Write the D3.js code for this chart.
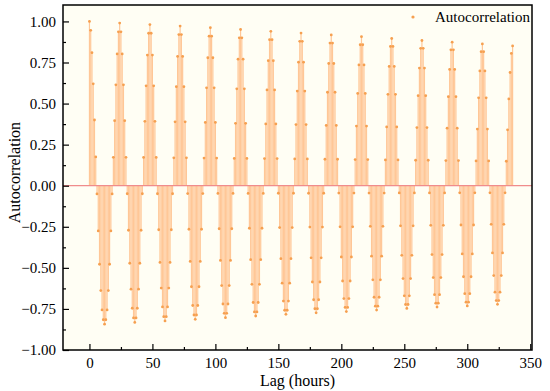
<!DOCTYPE html>
<html>
<head>
<meta charset="utf-8">
<style>
  body { margin: 0; background: #fff; }
  svg text { font-family: 'Liberation Serif', 'Times New Roman', serif; fill: #000; }
</style>
</head>
<body>
<div id="chart"></div>
<script src="https://cdn.jsdelivr.net/npm/d3@7"></script>
<script>
// autocorrelation by lag (hours), one row per 24 h cycle
const acf = [
  1.000, 0.946, 0.810, 0.620, 0.400, 0.175, -0.050, -0.275, -0.478, -0.638, -0.756, -0.816,
  -0.843, -0.816, -0.756, -0.638, -0.478, -0.275, -0.050, 0.173, 0.396, 0.614, 0.802, 0.937,
  0.990, 0.937, 0.802, 0.614, 0.396, 0.173, -0.049, -0.271, -0.472, -0.630, -0.746, -0.805,
  -0.832, -0.805, -0.746, -0.630, -0.472, -0.271, -0.049, 0.172, 0.392, 0.608, 0.795, 0.928,
  0.981, 0.928, 0.795, 0.608, 0.392, 0.172, -0.049, -0.268, -0.467, -0.623, -0.738, -0.797,
  -0.823, -0.797, -0.738, -0.623, -0.467, -0.268, -0.049, 0.170, 0.389, 0.603, 0.787, 0.920,
  0.972, 0.920, 0.787, 0.603, 0.389, 0.170, -0.048, -0.265, -0.461, -0.615, -0.729, -0.787,
  -0.813, -0.787, -0.729, -0.615, -0.461, -0.265, -0.048, 0.168, 0.385, 0.596, 0.779, 0.910,
  0.962, 0.910, 0.779, 0.596, 0.385, 0.168, -0.047, -0.262, -0.455, -0.608, -0.720, -0.777,
  -0.803, -0.777, -0.720, -0.608, -0.455, -0.262, -0.047, 0.166, 0.380, 0.590, 0.770, 0.900,
  0.951, 0.900, 0.770, 0.590, 0.380, 0.166, -0.047, -0.259, -0.450, -0.600, -0.711, -0.768,
  -0.793, -0.768, -0.711, -0.600, -0.450, -0.259, -0.047, 0.165, 0.376, 0.583, 0.761, 0.889,
  0.940, 0.889, 0.761, 0.583, 0.376, 0.165, -0.046, -0.255, -0.444, -0.593, -0.702, -0.758,
  -0.783, -0.758, -0.702, -0.593, -0.444, -0.255, -0.046, 0.163, 0.372, 0.576, 0.752, 0.879,
  0.929, 0.879, 0.752, 0.576, 0.372, 0.163, -0.046, -0.252, -0.439, -0.586, -0.694, -0.749,
  -0.774, -0.749, -0.694, -0.586, -0.439, -0.252, -0.046, 0.161, 0.367, 0.569, 0.744, 0.868,
  0.918, 0.868, 0.744, 0.569, 0.367, 0.161, -0.045, -0.250, -0.434, -0.580, -0.687, -0.741,
  -0.766, -0.741, -0.687, -0.580, -0.434, -0.250, -0.045, 0.159, 0.363, 0.562, 0.735, 0.858,
  0.907, 0.858, 0.735, 0.562, 0.363, 0.159, -0.045, -0.247, -0.429, -0.573, -0.679, -0.733,
  -0.757, -0.733, -0.679, -0.573, -0.429, -0.247, -0.045, 0.157, 0.358, 0.556, 0.726, 0.848,
  0.896, 0.848, 0.726, 0.556, 0.358, 0.157, -0.044, -0.244, -0.424, -0.565, -0.670, -0.723,
  -0.747, -0.723, -0.670, -0.565, -0.424, -0.244, -0.044, 0.155, 0.354, 0.548, 0.716, 0.836,
  0.884, 0.836, 0.716, 0.548, 0.354, 0.155, -0.044, -0.241, -0.419, -0.559, -0.663, -0.715,
  -0.739, -0.715, -0.663, -0.559, -0.419, -0.241, -0.044, 0.153, 0.350, 0.542, 0.708, 0.827,
  0.874, 0.827, 0.708, 0.542, 0.350, 0.153, -0.043, -0.239, -0.415, -0.554, -0.657, -0.709,
  -0.732, -0.709, -0.657, -0.554, -0.415, -0.239, -0.043, 0.151, 0.345, 0.535, 0.699, 0.816,
  0.863, 0.816, 0.699, 0.535, 0.345, 0.151, -0.043, -0.235, -0.409, -0.547, -0.648, -0.699,
  -0.722, -0.699, -0.648, -0.547, -0.409, -0.235, -0.043, 0.149, 0.340, 0.528, 0.689, 0.805,
  0.851
]
const xTicks = [0, 50, 100, 150, 200, 250, 300, 350]
const yTicks = [-1, -0.75, -0.5, -0.25, 0, 0.25, 0.5, 0.75, 1]
const seriesName = 'Autocorrelation'

const data = acf.map((v, i) => ({lag: i, value: v}))

const W = 550, H = 391
const margin = {left: 63, right: 18, top: 5, bottom: 41}
const width = W - margin.left - margin.right
const height = H - margin.top - margin.bottom

const svg = d3.select('#chart').append('svg')
    .attr('width', W)
    .attr('height', H)

const g = svg.append('g')
    .attr('transform', `translate(${margin.left},${margin.top})`)

const x = d3.scaleLinear()
    .domain([-21, 351.4])
    .range([0, width])

const y = d3.scaleLinear()
    .domain([-1, 1.1])
    .range([height, 0])

// plot background
g.append('rect')
    .attr('width', width)
    .attr('height', height)
    .attr('fill', '#fffef4')

// stems
g.append('g')
    .selectAll('line')
    .data(data)
    .join('line')
    .attr('x1', d => x(d.lag))
    .attr('x2', d => x(d.lag))
    .attr('y1', y(0))
    .attr('y2', d => y(d.value))
    .attr('stroke', '#ffc797')
    .attr('stroke-width', 1.2)

// zero line
g.append('line')
    .attr('x1', 0)
    .attr('x2', width)
    .attr('y1', y(0))
    .attr('y2', y(0))
    .attr('stroke', '#f08c8c')
    .attr('stroke-width', 1.2)

// points
g.append('g')
    .selectAll('circle')
    .data(data)
    .join('circle')
    .attr('cx', d => x(d.lag))
    .attr('cy', d => y(d.value))
    .attr('r', 1.4)
    .attr('fill', '#f6a050')

// axes, ticks pointing inward
const fmt = d3.format('.2f')

g.append('g')
    .attr('transform', `translate(0,${height})`)
    .call(d3.axisBottom(x).tickValues(xTicks).tickSize(-6).tickPadding(7))
g.append('g')
    .attr('transform', `translate(0,${height})`)
    .call(d3.axisBottom(x).tickValues(d3.range(25, 351, 50)).tickSize(-3).tickFormat(''))

g.append('g')
    .call(d3.axisLeft(y).tickValues(yTicks).tickSize(-6).tickPadding(7).tickFormat(fmt))
g.append('g')
    .call(d3.axisLeft(y).tickValues(d3.range(-0.875, 1.0, 0.25)).tickSize(-3).tickFormat(''))

g.selectAll('.domain').remove()
g.selectAll('.tick line').attr('stroke', '#000').attr('stroke-width', 1.2)
g.selectAll('.tick text').attr('font-size', 15).attr('font-family', "'Liberation Serif', serif")

// frame
g.append('rect')
    .attr('width', width)
    .attr('height', height)
    .attr('fill', 'none')
    .attr('stroke', '#000')
    .attr('stroke-width', 1.5)

// axis titles
svg.append('text')
    .attr('x', margin.left + width / 2)
    .attr('y', 386)
    .attr('text-anchor', 'middle')
    .attr('font-size', 16)
    .text('Lag (hours)')

svg.append('text')
    .attr('transform', `translate(20,${margin.top + y(0.08)}) rotate(-90)`)
    .attr('text-anchor', 'middle')
    .attr('font-size', 16)
    .text('Autocorrelation')

// legend
const legend = g.append('g')
    .attr('transform', `translate(${width - 119},12)`)
legend.append('circle')
    .attr('r', 1.6)
    .attr('fill', '#f6a050')
legend.append('text')
    .attr('x', 22)
    .attr('y', 5)
    .attr('font-size', 15)
    .text(seriesName)
</script>
</body>
</html>
